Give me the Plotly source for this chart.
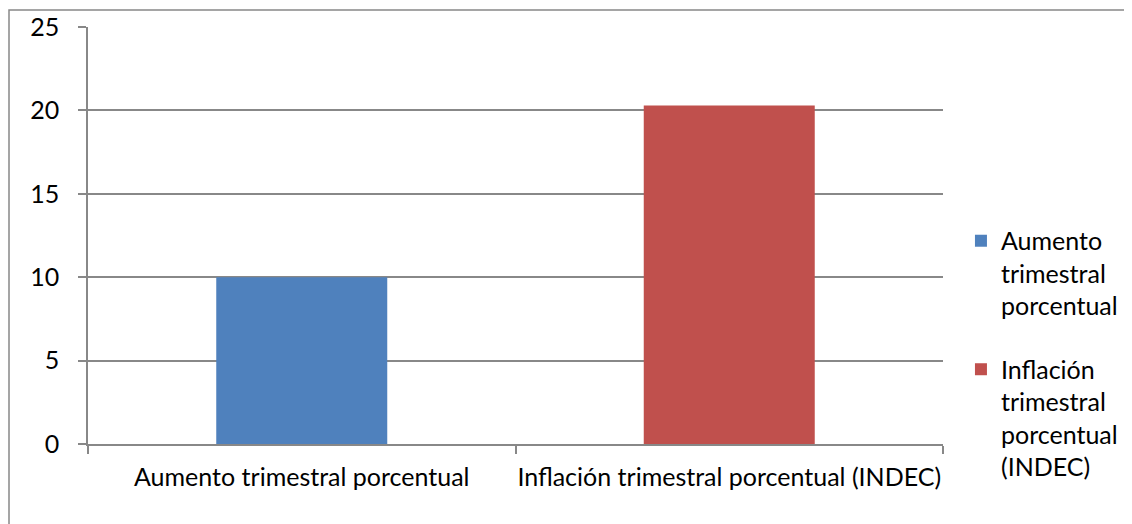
import plotly.graph_objects as go

categories = ["Aumento trimestral porcentual", "Inflación trimestral porcentual (INDEC)"]
values = [10, 20.3]
legend_names = ["Aumento<br>trimestral<br>porcentual", "Inflación<br>trimestral<br>porcentual<br>(INDEC)"]
colors = ["#4f81bd", "#c0504d"]
y_ticks = [0, 5, 10, 15, 20, 25]

FONT = "Lato"
FS = 25
L, T, PW, PH = 80, 19, 855, 417
W, H = 1132, 524

fig = go.Figure()
for i, (cat, val, name, col) in enumerate(zip(categories, values, legend_names, colors)):
    fig.add_trace(go.Bar(x=[cat], y=[val], name=name, legendgroup=f"g{i}",
                         marker=dict(color=col, line=dict(width=0))))

fig.update_layout(
    width=W, height=H,
    margin=dict(l=L, r=W - L - PW, t=T, b=H - T - PH, autoexpand=False),
    paper_bgcolor="white", plot_bgcolor="white",
    barmode="overlay", bargap=0.6,
    font=dict(family=FONT, size=FS, color="#000000"),
    legend=dict(x=1.021, y=0.542, xanchor="left", yanchor="top", valign="top",
                font=dict(family=FONT, size=FS), tracegroupgap=28,
                itemwidth=30, bgcolor="rgba(0,0,0,0)"),
    showlegend=True,
    shapes=[dict(type="rect", xref="paper", yref="paper",
                 x0=(1 - L) / PW, x1=1.4, y0=-0.4, y1=(T + PH - 2) / PH,
                 line=dict(color="#888888", width=1.5), fillcolor="rgba(0,0,0,0)", layer="below")],
)
fig.update_xaxes(type="category", categoryorder="array", categoryarray=categories,
                 showline=True, linecolor="#888888", linewidth=1.5,
                 ticks="outside", tickson="boundaries", ticklen=8, tickcolor="#888888", tickwidth=1.5,
                 showgrid=False, tickfont=dict(family=FONT, size=FS), ticklabelstandoff=10,
                 tickangle=0, automargin=False)
fig.update_yaxes(range=[0, 25], tickvals=y_ticks, showline=True, linecolor="#888888", linewidth=1.5,
                 ticks="outside", ticklen=8, tickcolor="#888888", tickwidth=1.5,
                 showgrid=True, gridcolor="#888888", gridwidth=1.5, zeroline=False,
                 tickfont=dict(family=FONT, size=FS), ticklabelstandoff=14, automargin=False)

fig.write_html("out.html")
